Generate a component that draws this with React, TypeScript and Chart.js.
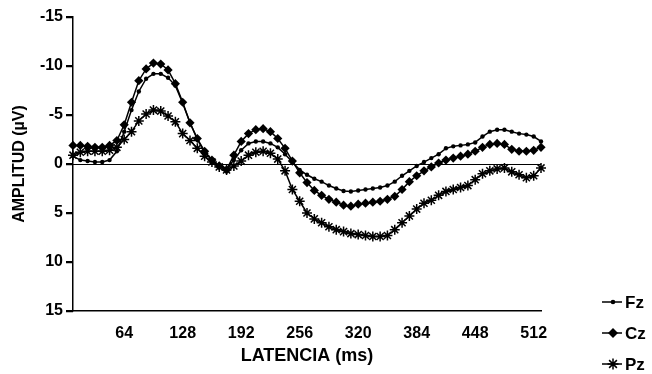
import { useEffect, useRef } from 'react';
import { Chart, registerables } from 'chart.js';

Chart.register(...registerables);

const latency = [8, 16, 24, 32, 40, 48, 56, 64, 72, 80, 88, 96, 104, 112, 120, 128, 136, 144, 152, 160, 168, 176, 184, 192, 200, 208, 216, 224, 232, 240, 248, 256, 264, 272, 280, 288, 296, 304, 312, 320, 328, 336, 344, 352, 360, 368, 376, 384, 392, 400, 408, 416, 424, 432, 440, 448, 456, 464, 472, 480, 488, 496, 504, 512, 520];

const fz = [-0.8, -0.4, -0.3, -0.2, -0.2, -0.4, -1.3, -3.3, -5.5, -7.4, -8.7, -9.2, -9.2, -8.8, -8.0, -6.2, -4.2, -2.5, -1.2, -0.4, 0.2, 0.5, -0.4, -1.4, -2.1, -2.3, -2.3, -2.1, -1.7, -1.0, -0.2, 0.6, 1.1, 1.5, 1.8, 2.2, 2.5, 2.75, 2.8, 2.7, 2.6, 2.5, 2.4, 2.2, 1.8, 1.2, 0.7, 0.2, -0.2, -0.6, -1.0, -1.6, -1.8, -1.9, -2.0, -2.2, -2.8, -3.3, -3.5, -3.5, -3.3, -3.1, -3.0, -2.8, -2.3];

const cz = [-1.9, -1.9, -1.8, -1.7, -1.7, -1.9, -2.4, -4.0, -6.3, -8.5, -9.7, -10.3, -10.2, -9.6, -8.2, -6.3, -4.2, -2.6, -1.3, -0.4, 0.2, 0.6, -0.9, -2.3, -3.1, -3.5, -3.6, -3.3, -2.6, -1.6, -0.3, 0.9, 1.9, 2.7, 3.2, 3.6, 3.9, 4.2, 4.3, 4.1, 4.0, 3.9, 3.8, 3.6, 3.3, 2.6, 1.8, 1.2, 0.7, 0.3, -0.1, -0.4, -0.6, -0.8, -1.0, -1.3, -1.7, -2.0, -2.1, -2.0, -1.5, -1.3, -1.3, -1.4, -1.7];

const pz = [-0.9, -1.2, -1.3, -1.3, -1.3, -1.4, -1.7, -2.5, -3.3, -4.4, -5.1, -5.5, -5.4, -4.9, -4.3, -3.1, -2.4, -1.6, -0.8, -0.2, 0.3, 0.6, 0.2, -0.3, -0.9, -1.2, -1.3, -1.1, -0.5, 0.7, 2.6, 3.8, 5.0, 5.6, 6.0, 6.4, 6.7, 6.9, 7.1, 7.2, 7.3, 7.4, 7.4, 7.3, 6.7, 6.0, 5.3, 4.6, 4.0, 3.7, 3.2, 2.8, 2.6, 2.4, 2.2, 1.6, 1.0, 0.7, 0.5, 0.4, 0.8, 1.1, 1.4, 1.2, 0.4];

const xTicks = [64, 128, 192, 256, 320, 384, 448, 512];
const yTicks = [-15, -10, -5, 0, 5, 10, 15];
const seriesNames = ['Fz', 'Cz', 'Pz'];

const FONT = '"Liberation Sans", Arial, Helvetica, sans-serif';

export default function App() {
  const ref = useRef<HTMLCanvasElement>(null);

  useEffect(() => {
    if (!ref.current) return;
    const toPts = (arr: number[]) => latency.map((x, i) => ({ x, y: arr[i] }));

    const axisMarksPlugin = {
      id: 'axisMarks',
      beforeDatasetsDraw(chart: any) {
        const { ctx, chartArea } = chart;
        const ys = chart.scales.y;
        ctx.save();
        ctx.strokeStyle = '#000';
        // zero reference line
        const y0 = Math.round(ys.getPixelForValue(0)) + 0.5;
        ctx.lineWidth = 1.2;
        ctx.beginPath();
        ctx.moveTo(chartArea.left, y0);
        ctx.lineTo(chartArea.right, y0);
        ctx.stroke();
        // y tick marks
        ctx.lineWidth = 1.5;
        ctx.beginPath();
        ys.ticks.forEach((t: any) => {
          const y = Math.round(ys.getPixelForValue(t.value)) + 0.5;
          ctx.moveTo(chartArea.left - 7, y);
          ctx.lineTo(chartArea.left, y);
        });
        ctx.stroke();
        ctx.restore();
      },
    };

    const legendPlugin = {
      id: 'eegLegend',
      afterDraw(chart: any) {
        const ctx = chart.ctx as CanvasRenderingContext2D;
        const rows = [302, 333, 364];
        ctx.save();
        ctx.strokeStyle = '#000';
        ctx.fillStyle = '#000';
        ctx.lineWidth = 1.5;
        ctx.font = 'bold 17px ' + FONT;
        ctx.textBaseline = 'middle';
        ctx.textAlign = 'left';
        seriesNames.forEach((name, i) => {
          const y = rows[i];
          const x0 = 602, x1 = 622, cx = 613;
          ctx.beginPath();
          ctx.moveTo(x0, y);
          ctx.lineTo(x1, y);
          ctx.stroke();
          if (i === 0) {
            ctx.beginPath();
            ctx.arc(cx, y, 2.3, 0, Math.PI * 2);
            ctx.fill();
          } else if (i === 1) {
            const r = 5;
            ctx.beginPath();
            ctx.moveTo(cx, y - r);
            ctx.lineTo(cx + r, y);
            ctx.lineTo(cx, y + r);
            ctx.lineTo(cx - r, y);
            ctx.closePath();
            ctx.fill();
          } else {
            const r = 5.5;
            ctx.beginPath();
            for (let k = 0; k < 4; k++) {
              const a = (k * Math.PI) / 4;
              ctx.moveTo(cx - r * Math.cos(a), y - r * Math.sin(a));
              ctx.lineTo(cx + r * Math.cos(a), y + r * Math.sin(a));
            }
            ctx.stroke();
          }
          ctx.fillText(name, 625, y + 1);
        });
        ctx.restore();
      },
    };

    const common = {
      borderColor: '#000',
      backgroundColor: '#000',
      pointBackgroundColor: '#000',
      pointBorderColor: '#000',
      borderWidth: 1.5,
      tension: 0,
      clip: 8,
    };

    const chart = new Chart(ref.current, {
      type: 'line',
      data: {
        datasets: [
          { ...common, label: seriesNames[0], data: toPts(fz), pointStyle: 'circle', pointRadius: 2.2, pointBorderWidth: 0 },
          { ...common, label: seriesNames[1], data: toPts(cz), pointStyle: 'rectRot', pointRadius: 4.6, pointBorderWidth: 0 },
          { ...common, label: seriesNames[2], data: toPts(pz), pointStyle: 'star', pointRadius: 5, pointBorderWidth: 1.5 },
        ],
      },
      options: {
        animation: false,
        responsive: false,
        events: [],
        layout: { padding: { top: 17, right: 111, left: 0, bottom: 0 } },
        plugins: { legend: { display: false }, tooltip: { enabled: false } },
        scales: {
          x: {
            type: 'linear',
            min: 8,
            max: 520,
            afterBuildTicks: (s: any) => {
              s.ticks = xTicks.map((v) => ({ value: v }));
            },
            afterFit: (s: any) => {
              s.height = 63;
            },
            grid: { display: false },
            border: { display: true, color: '#000', width: 1.5 },
            ticks: {
              color: '#000',
              font: { family: FONT, size: 16, weight: 'bold' },
              padding: 5,
              maxRotation: 0,
              autoSkip: false,
            },
            title: {
              display: true,
              text: 'LATENCIA (ms)',
              color: '#000',
              font: { family: FONT, size: 18, weight: 'bold' },
              padding: { top: 0, bottom: 7 },
            },
          },
          y: {
            type: 'linear',
            min: -15,
            max: 15,
            reverse: true,
            afterBuildTicks: (s: any) => {
              s.ticks = yTicks.map((v) => ({ value: v }));
            },
            afterFit: (s: any) => {
              s.width = 73;
            },
            grid: {
              drawOnChartArea: false,
              color: '#000',
              tickColor: '#000',
              tickLength: 7,
              lineWidth: 1.5,
            },
            border: { display: true, color: '#000', width: 1.5 },
            ticks: {
              color: '#000',
              font: { family: FONT, size: 16, weight: 'bold' },
              padding: 3,
              autoSkip: false,
              callback: (v: any) => String(v),
            },
            title: {
              display: true,
              text: 'AMPLITUD (µV)',
              color: '#000',
              font: { family: FONT, size: 16, weight: 'bold' },
              padding: { top: 10, bottom: 0 },
            },
          },
        },
      },
      plugins: [axisMarksPlugin, legendPlugin],
    } as any);

    return () => chart.destroy();
  }, []);

  return (
    <div style={{ position: 'fixed', left: 0, top: 0, width: 652, height: 374, background: '#fff' }}>
      <canvas ref={ref} width={652} height={374} style={{ width: 652, height: 374, display: 'block' }} />
    </div>
  );
}
